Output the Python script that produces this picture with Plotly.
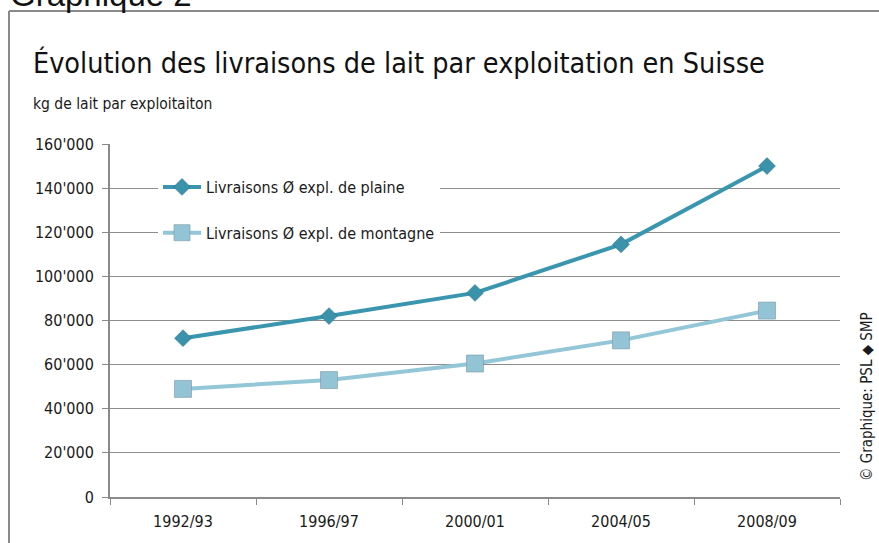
import plotly.graph_objects as go

categories = ["1992/93", "1996/97", "2000/01", "2004/05", "2008/09"]
plaine = [72000, 82000, 92500, 114500, 150000]
montagne = [49000, 53000, 60500, 71000, 84500]
y_tickvals = [0, 20000, 40000, 60000, 80000, 100000, 120000, 140000, 160000]
y_ticktext = ["0", "20'000", "40'000", "60'000", "80'000", "100'000", "120'000", "140'000", "160'000"]

NARROW = "DejaVu Sans Condensed, Liberation Sans Narrow, Arial Narrow, sans-serif"
W, H = 879, 543
L, R, T, B = 110, 39, 144, 46
PW, PH = W - L - R, H - T - B

def px(x):
    return (x - L) / PW

def py(y):
    return (H - B - y) / PH

fig = go.Figure()
fig.add_trace(go.Scatter(
    x=categories, y=plaine, mode="lines+markers",
    name="Livraisons Ø expl. de plaine",
    line=dict(color="#3A96AE", width=4),
    marker=dict(symbol="diamond", size=13, color="#3A93AB",
                line=dict(color="rgba(40,110,130,0.5)", width=1)),
    legendgroup="a",
))
fig.add_trace(go.Scatter(
    x=categories, y=montagne, mode="lines+markers",
    name="Livraisons Ø expl. de montagne",
    line=dict(color="#93C6D7", width=4),
    marker=dict(symbol="square", size=17, color="#93C4D5",
                line=dict(color="rgba(120,150,165,0.6)", width=1)),
    legendgroup="b",
))

fig.update_layout(
    width=W, height=H,
    margin=dict(l=L, r=R, t=T, b=B, autoexpand=False),
    paper_bgcolor="white", plot_bgcolor="white",
    font=dict(family=NARROW, size=16, color="#1a1a1a"),
    showlegend=True,
    legend=dict(
        x=px(158), y=py(170), xanchor="left", yanchor="top",
        bgcolor="white", borderwidth=0, itemwidth=38,
        font=dict(family=NARROW, size=16, color="#1a1a1a"),
        tracegroupgap=22, traceorder="grouped",
    ),
    xaxis=dict(
        type="category", range=[-0.5, 4.5],
        showline=True, linecolor="#8a8a8a", linewidth=2,
        ticks="outside", tickson="boundaries", ticklen=6, tickcolor="#8a8a8a", tickwidth=1,
        showgrid=False, zeroline=False,
        tickfont=dict(family=NARROW, size=16, color="#1a1a1a"),
        ticklabelstandoff=9,
    ),
    yaxis=dict(
        range=[0, 160000], tickvals=y_tickvals, ticktext=y_ticktext,
        showline=True, linecolor="#8a8a8a", linewidth=2,
        ticks="outside", ticklen=6, tickcolor="#8a8a8a", tickwidth=1,
        showgrid=True, gridcolor="#8c8c8c", gridwidth=1,
        zeroline=False,
        tickfont=dict(family=NARROW, size=16, color="#1a1a1a"),
        ticklabelstandoff=5,
    ),
    annotations=[
        dict(text="Graphique 2", xref="paper", yref="paper", x=px(8), y=py(-6),
             xanchor="left", yanchor="middle", showarrow=False,
             font=dict(family="Liberation Sans, Arial, sans-serif", size=33, color="#111")),
        dict(text="Évolution des livraisons de lait par exploitation en Suisse",
             xref="paper", yref="paper", x=px(31), y=py(63),
             xanchor="left", yanchor="middle", showarrow=False,
             font=dict(family=NARROW, size=28.5, color="#111")),
        dict(text="kg de lait par exploitaiton", xref="paper", yref="paper",
             x=px(31), y=py(104), xanchor="left", yanchor="middle", showarrow=False,
             font=dict(family=NARROW, size=15.5, color="#1a1a1a")),
        dict(text="© Graphique: PSL ◆ SMP", xref="paper", yref="paper",
             x=px(867), y=py(397), xanchor="center", yanchor="middle", textangle=-90,
             showarrow=False, font=dict(family=NARROW, size=15, color="#1a1a1a")),
    ],
    shapes=[
        dict(type="line", xref="paper", yref="paper", x0=px(9), x1=px(880), y0=py(11), y1=py(11),
             line=dict(color="#8a8a8a", width=2)),
        dict(type="line", xref="paper", yref="paper", x0=px(9), x1=px(9), y0=py(11), y1=py(545),
             line=dict(color="#8a8a8a", width=2)),
    ],
)

fig.write_html("out.html", config={"displayModeBar": False},
               post_script="document.body.style.margin='0';document.body.style.overflow='hidden';")
